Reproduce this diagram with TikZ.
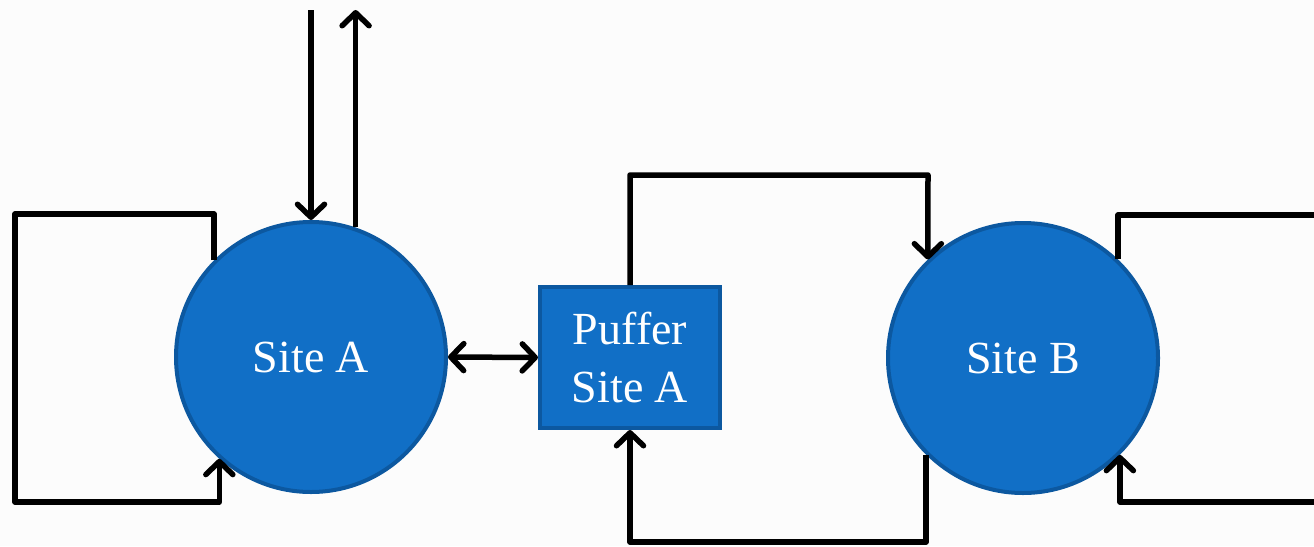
\documentclass[tikz,border=0pt]{standalone}
\usepackage{fontspec}
\setmainfont{Liberation Serif}
\usetikzlibrary{arrows.meta}
\definecolor{sitefill}{RGB}{17,111,198}
\definecolor{siteedge}{RGB}{12,88,160}
\definecolor{bgc}{RGB}{252,252,252}
\tikzset{
  site/.style={circle, fill=sitefill, draw=siteedge, line width=4pt, minimum size=270pt, inner sep=0pt,
    text=white, font=\fontsize{46}{58}\selectfont},
  pufferbox/.style={rectangle, fill=sitefill, draw=siteedge, line width=4pt, minimum width=180pt, minimum height=141pt,
    inner sep=0pt, align=center, text=white, font=\fontsize{46}{58}\selectfont},
  flow/.style={line width=5.5pt, line join=round, draw=black},
  >={Straight Barb[length=13pt,width=27pt,line width=5.5pt,round]}
}
\begin{document}
\begin{tikzpicture}[x=1pt,y=-1pt]
\fill[bgc] (0,0) rectangle (1314,546);
\useasboundingbox (0,0) rectangle (1314,546);
\clip (0,0) rectangle (1314,546);

\node[site] (A) at (311,357) {Site A};
\node[site] (B) at (1023,358) {Site B};
\node[pufferbox] (P) at (630,357.5) {Puffer\\Site A};

\coordinate (inA) at (311,10);
\coordinate (la1) at (15,214);
\coordinate (la2) at (15,502);
\coordinate (pt) at (928,175);
\coordinate (pb) at (630,542);
\coordinate (rb1) at (1330,215);
\coordinate (rb2) at (1330,502);

% Site A in/out
\draw[flow,->] (inA) -- (A.north);
\draw[flow,->] (A.71) -- (A.71 |- inA);

% Site A self loop
\draw[flow,->] (A.135) |- (la1) |- (A.228 |- la2) -- (A.228);

% Site A <-> Puffer
\draw[flow,<->] (A.east) -- (P.west);

% Puffer -> Site B
\draw[flow,->] (P.north) |- (pt) -- (B.134);

% Site B -> Puffer
\draw[flow,->] (B.225) |- (pb) -- (P.south);

% Site B right loop
\draw[flow] (B.46) |- (rb1);
\draw[flow,->] (rb2) -| (B.315);
\end{tikzpicture}
\end{document}
